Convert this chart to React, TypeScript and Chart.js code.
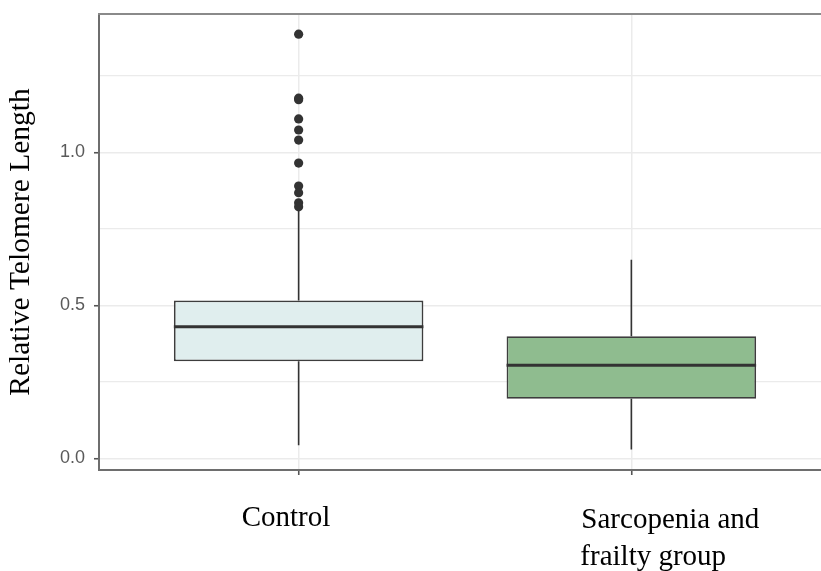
import React, { useEffect, useRef } from "react";
import { Chart, registerables } from "chart.js";

Chart.register(...registerables);

// ---- data ----
const categories: string[][] = [["Control"], ["Sarcopenia and", "frailty group"]];
const q1 = [0.317, 0.195];
const median = [0.43, 0.304];
const q3 = [0.516, 0.399];
const whiskerLow = [0.043, 0.029];
const whiskerHigh = [0.812, 0.649];
const controlOutliers = [1.386, 1.177, 1.172, 1.109, 1.073, 1.04, 0.965, 0.89, 0.868, 0.835, 0.822];
const yMajorTicks = [0, 0.5, 1.0];
const yMinorTicks = [0.25, 0.75, 1.25];
const fills = ["#E0EEEE", "#8FBC8F"];

const BOX_WIDTH = 0.75;
const LABEL_OFFSETS = [
  [{ dx: -57, dy: 56 }],
  [
    { dx: -50, dy: 58 },
    { dx: -51, dy: 95 },
  ],
];

const borderPlugin = {
  id: "panelBorderAndLabels",
  afterDraw(chart: any) {
    const { ctx, chartArea } = chart;
    const xs = chart.scales.x;
    ctx.save();
    ctx.strokeStyle = "#8a8a8a";
    ctx.lineWidth = 2;
    ctx.beginPath();
    ctx.moveTo(chartArea.left - 1, chartArea.top);
    ctx.lineTo(chartArea.right, chartArea.top);
    ctx.stroke();
    ctx.fillStyle = "#000";
    ctx.font = '29px "Liberation Serif", "Times New Roman", serif';
    ctx.textAlign = "left";
    ctx.textBaseline = "alphabetic";
    categories.forEach((lines, i) => {
      const px = xs.getPixelForValue(i + 1);
      lines.forEach((line, j) => {
        const o = LABEL_OFFSETS[i][j];
        ctx.fillText(line, px + o.dx, chartArea.bottom + o.dy);
      });
    });
    ctx.restore();
  },
};

export default function App() {
  const ref = useRef<HTMLCanvasElement | null>(null);

  useEffect(() => {
    if (!ref.current) return;
    const boxData = categories.map((_, i) => ({ x: i + 1, y: [q1[i], q3[i]] }));
    const whiskerData: any[] = [];
    categories.forEach((_, i) => {
      whiskerData.push({ x: i + 1, y: q3[i] }, { x: i + 1, y: whiskerHigh[i] }, { x: i + 1, y: null });
      whiskerData.push({ x: i + 1, y: q1[i] }, { x: i + 1, y: whiskerLow[i] }, { x: i + 1, y: null });
    });
    const medianData: any[] = [];
    categories.forEach((_, i) => {
      medianData.push(
        { x: i + 1 - BOX_WIDTH / 2, y: median[i] },
        { x: i + 1 + BOX_WIDTH / 2, y: median[i] },
        { x: i + 1, y: null }
      );
    });
    const outlierData = controlOutliers.map((v) => ({ x: 1, y: v }));

    const chart = new Chart(ref.current, {
      type: "bar",
      data: {
        datasets: [
          {
            type: "scatter",
            data: outlierData,
            pointRadius: 4.6,
            pointBackgroundColor: "#333333",
            pointBorderWidth: 0,
            pointBorderColor: "#333333",
          } as any,
          {
            type: "line",
            data: medianData,
            borderColor: "#333333",
            borderWidth: 3,
            pointRadius: 0,
            spanGaps: false,
          } as any,
          {
            type: "bar",
            data: boxData,
            backgroundColor: fills,
            borderColor: "#3d3d3d",
            borderWidth: 1.8,
            borderSkipped: false,
            categoryPercentage: 1,
            barPercentage: BOX_WIDTH,
          } as any,
          {
            type: "line",
            data: whiskerData,
            borderColor: "#333333",
            borderWidth: 1.6,
            pointRadius: 0,
            spanGaps: false,
          } as any,
        ],
      },
      options: {
        animation: false,
        responsive: true,
        maintainAspectRatio: false,
        layout: { autoPadding: false, padding: { top: 14, right: 0, left: 0, bottom: 0 } },
        plugins: { legend: { display: false }, tooltip: { enabled: false } },
        scales: {
          x: {
            type: "linear",
            offset: false,
            min: 0.4,
            max: 2.57,
            afterBuildTicks: (s: any) => {
              s.ticks = categories.map((_, i) => ({ value: i + 1 }));
            },
            afterFit: (s: any) => {
              s.height = 101;
              s.paddingLeft = 0;
              s.paddingRight = 0;
            },
            ticks: { display: false },
            grid: {
              offset: false,
              color: "#EBEBEB",
              lineWidth: 1.5,
              tickLength: 5,
              tickColor: "#555555",
              tickWidth: 1.6,
            },
            border: { display: true, color: "#6e6e6e", width: 2 },
          },
          y: {
            type: "linear",
            min: -0.038,
            max: 1.452,
            afterBuildTicks: (s: any) => {
              s.ticks = [...yMajorTicks, ...yMinorTicks].sort((a, b) => a - b).map((v) => ({ value: v }));
            },
            afterFit: (s: any) => {
              s.width = 99;
              s.paddingTop = 0;
              s.paddingBottom = 0;
            },
            ticks: {
              padding: 9,
              color: "#5a5a5a",
              font: { family: '"Liberation Sans", Arial, sans-serif', size: 18 },
              callback: (v: any) => (yMajorTicks.includes(Number(v)) ? Number(v).toFixed(1) : ""),
            },
            grid: {
              color: "#EBEBEB",
              lineWidth: (c: any) => (c.tick && yMajorTicks.includes(c.tick.value) ? 1.5 : 1.2),
              tickLength: 5,
              tickColor: (c: any) =>
                c.tick && yMajorTicks.includes(c.tick.value) ? "#555555" : "rgba(0,0,0,0)",
              tickWidth: 1.6,
            },
            border: { display: true, color: "#6e6e6e", width: 2 },
            title: {
              display: true,
              text: "Relative Telomere Length",
              color: "#000",
              font: { family: '"Liberation Serif", "Times New Roman", serif', size: 29.5 },
              padding: { top: 4, bottom: 0 },
            },
          },
        },
      },
      plugins: [borderPlugin],
    } as any);
    return () => chart.destroy();
  }, []);

  return (
    <div style={{ position: "absolute", left: 0, top: 0, width: 821, height: 571 }}>
      <canvas ref={ref} />
    </div>
  );
}
